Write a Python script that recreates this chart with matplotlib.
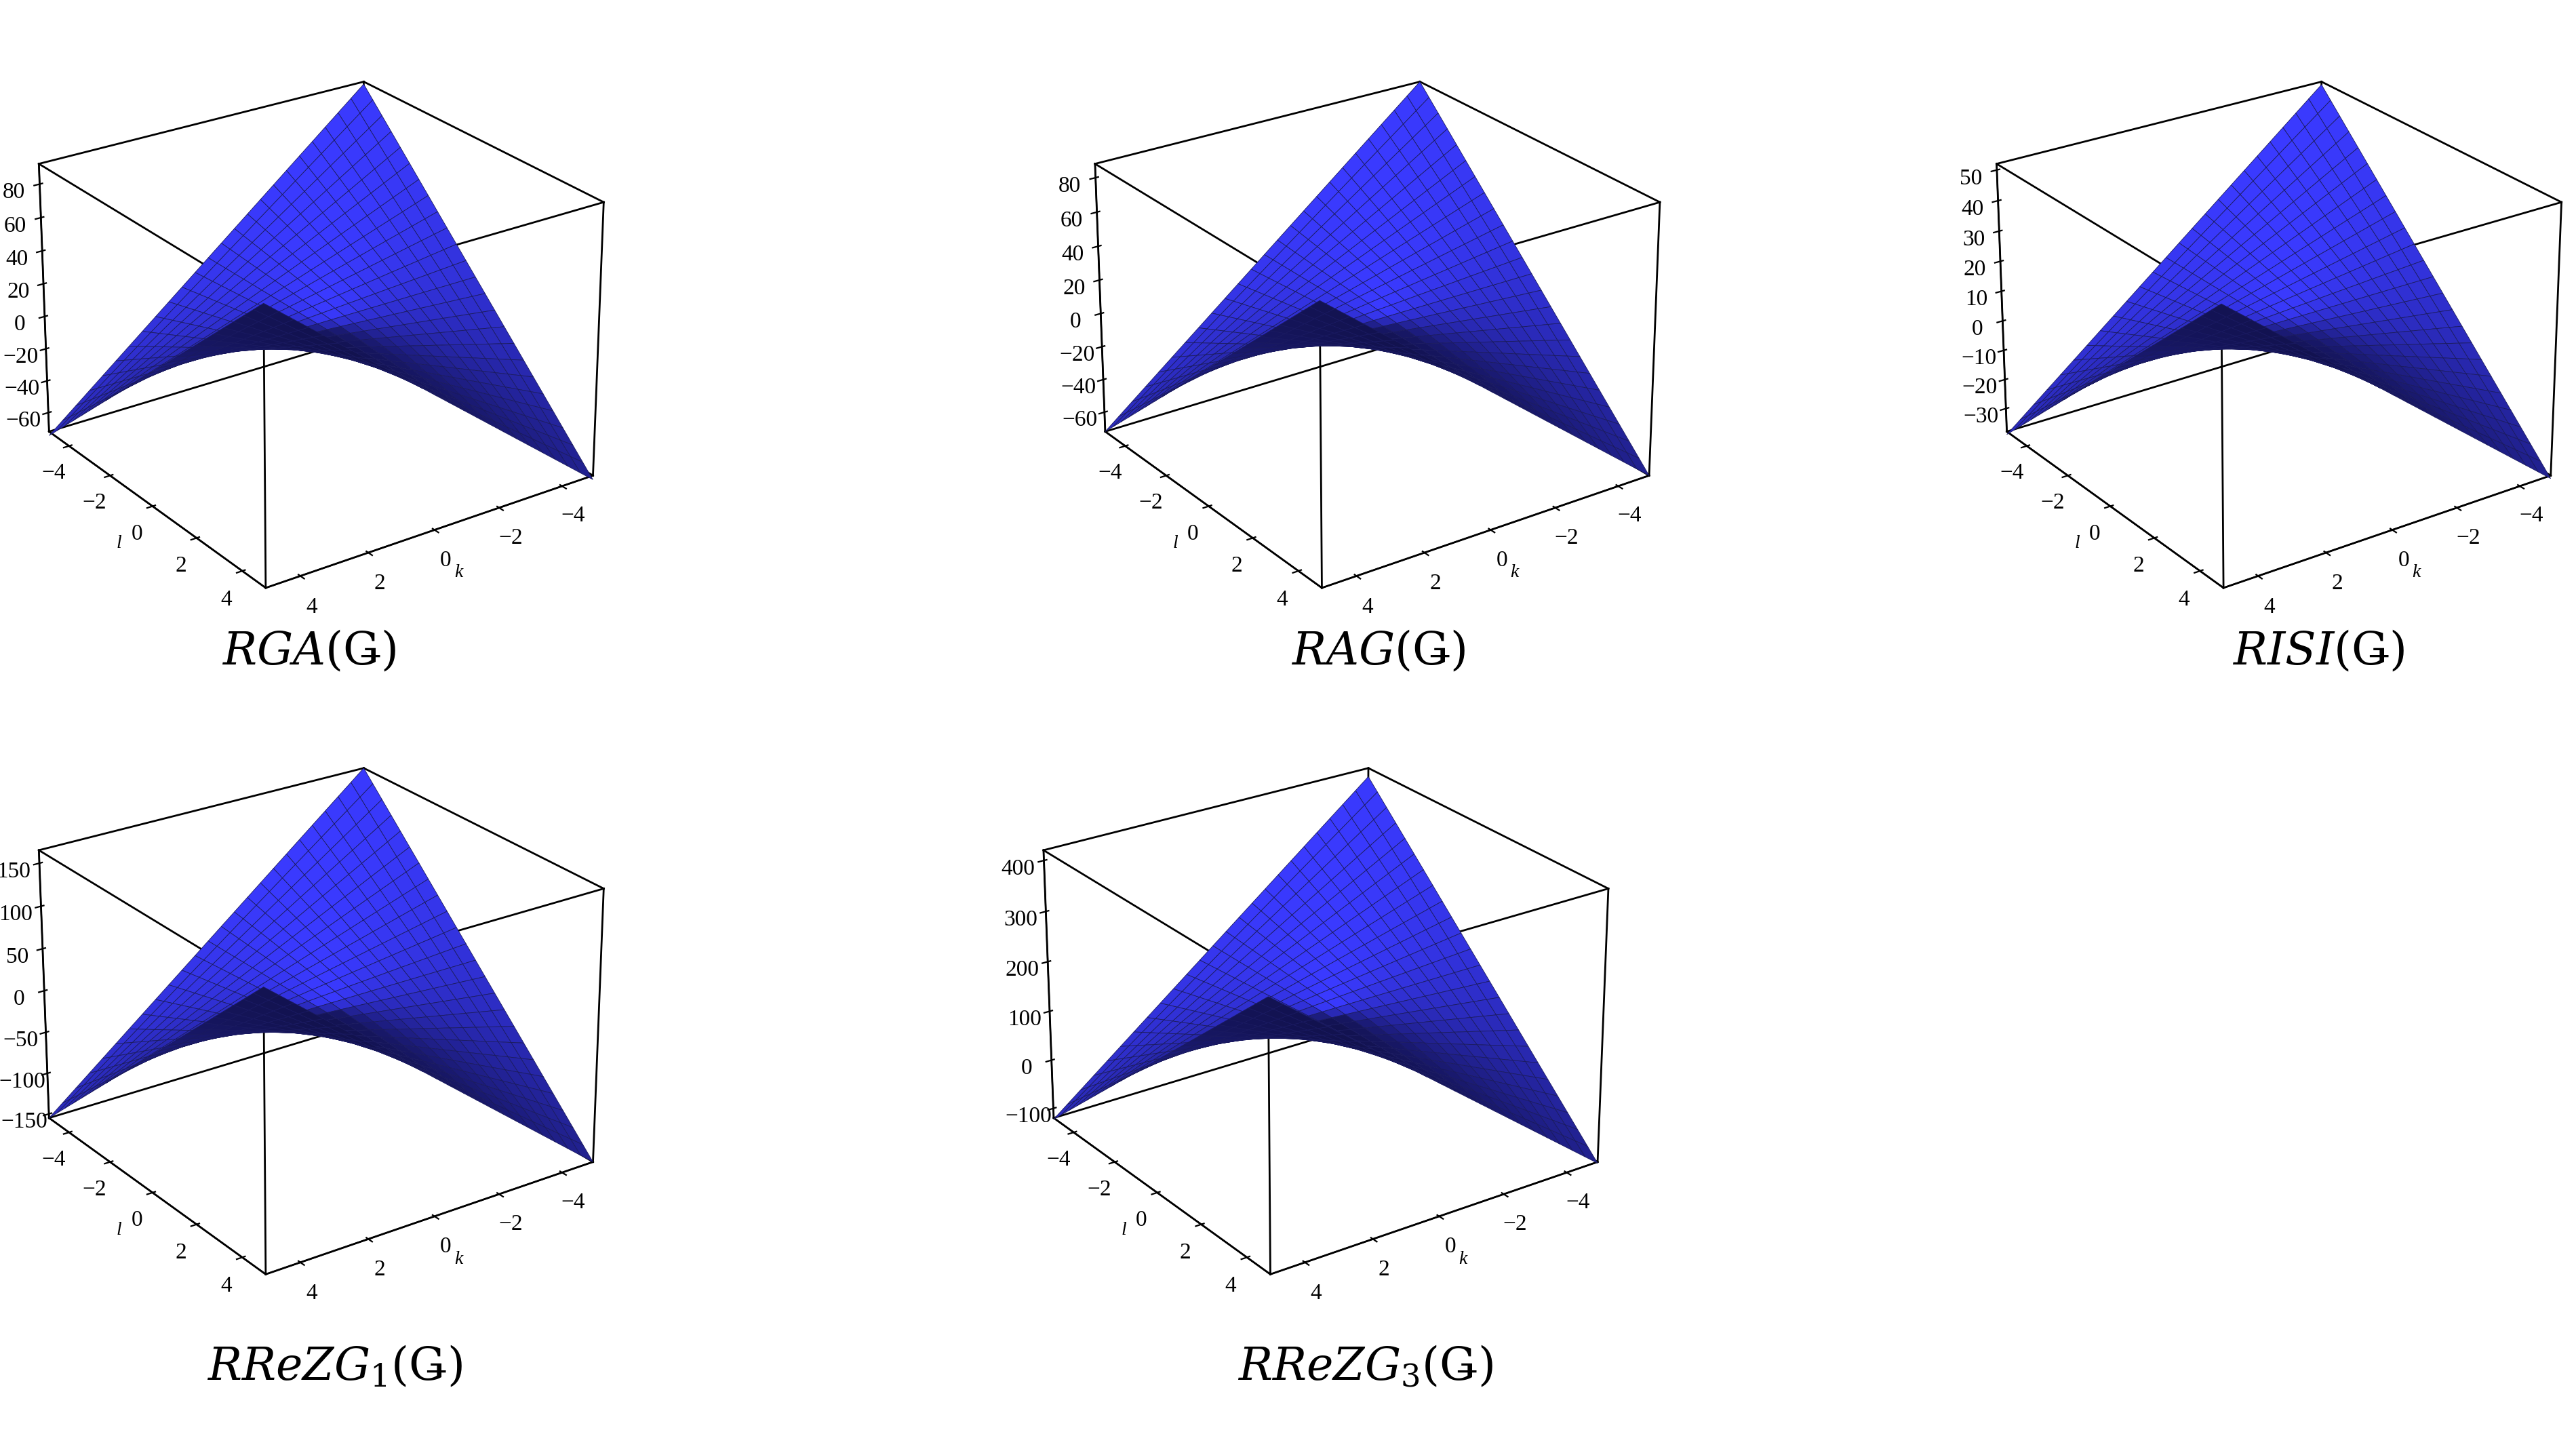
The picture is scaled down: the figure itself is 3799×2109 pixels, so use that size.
import numpy as np
import matplotlib.pyplot as plt
from matplotlib.colors import LightSource

# panel titles and surface coefficients z = coef*k*l + offset
titles = [r'$RGA$(Ǥ)', r'$RAG$(Ǥ)', r'$RISI$(Ǥ)', r'$RReZG_1$(Ǥ)', r'$RReZG_3$(Ǥ)']
coef = [3.3, 3.2, 1.8, 6.4, 10.5]
offset = [8, 8, 6, 5, 140]
zticks = [
    [-60, -40, -20, 0, 20, 40, 60, 80],
    [-60, -40, -20, 0, 20, 40, 60, 80],
    [-30, -20, -10, 0, 10, 20, 30, 40, 50],
    [-150, -100, -50, 0, 50, 100, 150],
    [-100, 0, 100, 200, 300, 400],
]
zlims = [(-72, 92), (-72, 88), (-38, 52), (-155, 165), (-120, 420)]

plt.rcParams['mathtext.fontset'] = 'dejavuserif'
fig = plt.figure(figsize=(18.995, 10.545), dpi=200)
pos = [(0.0, 0.52), (0.41, 0.52), (0.76, 0.52), (0.0, 0.04), (0.39, 0.04)]
tpos = [(0.12, 0.535), (0.535, 0.535), (0.9, 0.535), (0.13, 0.035), (0.53, 0.035)]

k = np.linspace(-5, 5, 25)
l = np.linspace(-5, 5, 25)
K, L = np.meshgrid(k, l)
ls = LightSource(azdeg=60, altdeg=10)

for i in range(5):
    ax = fig.add_axes([pos[i][0], pos[i][1] + 0.03, 0.24, 0.44], projection='3d')
    Z = coef[i] * K * L + offset[i]
    ax.plot_surface(K, L, Z, color='#3a3aff', edgecolor='#1a1a60', linewidth=0.3,
                    shade=True, lightsource=ls, rcount=25, ccount=25)
    ax.set_zlim(*zlims[i])
    ax.set_xlim(-5, 5)
    ax.set_ylim(-5, 5)
    ax.set_xticks([-4, -2, 0, 2, 4])
    ax.set_yticks([-4, -2, 0, 2, 4])
    ax.set_zticks(zticks[i])
    ax.set_xlabel('k', fontstyle='italic', fontsize=10, labelpad=-4, family='Liberation Serif')
    ax.set_ylabel('l', fontstyle='italic', fontsize=10, labelpad=-4, family='Liberation Serif')
    ax.tick_params(labelsize=12, pad=0)
    for t in ax.get_xticklabels() + ax.get_yticklabels() + ax.get_zticklabels():
        t.set_family('Liberation Serif')
    ax.grid(False)
    for a in (ax.xaxis, ax.yaxis, ax.zaxis):
        a.set_pane_color((1, 1, 1, 0))
        a.line.set_color('black')
    # box edges
    x0, x1 = -5, 5
    z0, z1 = zlims[i]
    for xs, ys in [((x0, x1), (x0, x0)), ((x0, x1), (x1, x1)),
                   ((x0, x0), (x0, x1)), ((x1, x1), (x0, x1))]:
        for zz in (z0, z1):
            ax.plot(xs, ys, [zz, zz], color='black', linewidth=1)
    for xx in (x0, x1):
        for yy in (x0, x1):
            ax.plot([xx, xx], [yy, yy], [z0, z1], color='black', linewidth=1)
    ax.view_init(elev=25, azim=55)
    fig.text(tpos[i][0], tpos[i][1], titles[i], fontsize=24, ha='center',
             family='DejaVu Serif')

fig.savefig('out.png')
